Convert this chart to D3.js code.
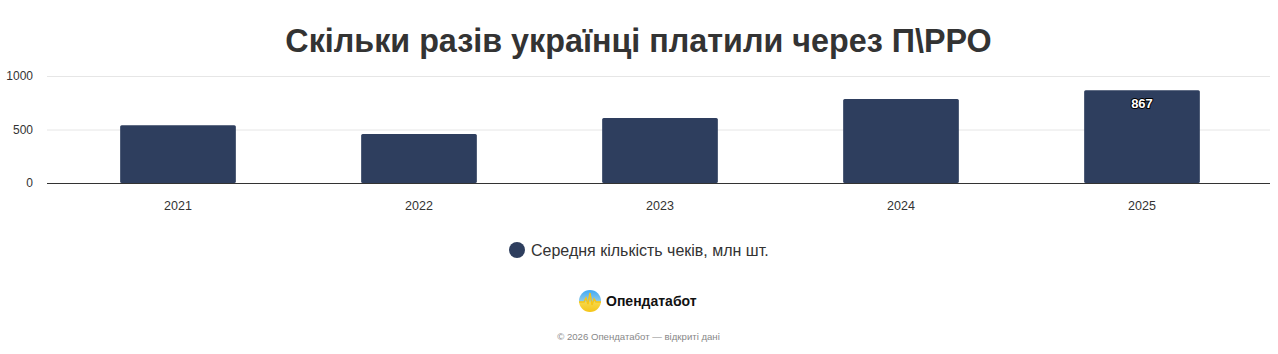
<!DOCTYPE html>
<html>
<head>
<meta charset="utf-8">
<script src="https://cdn.jsdelivr.net/npm/d3@7"></script>
<style>
  body { margin: 0; background: #fff; font-family: "Liberation Sans", Arial, sans-serif; }
</style>
</head>
<body>
<div id="chart"></div>
<script>
const years = ["2021", "2022", "2023", "2024", "2025"];
const values = [540, 458, 607, 785, 867];
const yTicks = [0, 500, 1000];
const seriesName = "Середня кількість чеків, млн шт.";
const titleText = "Скільки разів українці платили через П\\РРО";

const width = 1278;
const height = 354;
const barColor = "#2e3e5e";

const svg = d3.select("#chart")
  .append("svg")
  .attr("width", width)
  .attr("height", height);

const defs = svg.append("defs");
const grad = defs.append("linearGradient")
  .attr("id", "logoGrad")
  .attr("x1", 0).attr("y1", 0).attr("x2", 0).attr("y2", 1);
grad.append("stop").attr("offset", "0%").attr("stop-color", "#3fa9f5");
grad.append("stop").attr("offset", "50%").attr("stop-color", "#8cc9e8");
grad.append("stop").attr("offset", "55%").attr("stop-color", "#f7d84a");
grad.append("stop").attr("offset", "100%").attr("stop-color", "#f5c518");

// title
svg.append("text")
  .attr("x", 638.5)
  .attr("y", 52)
  .attr("text-anchor", "middle")
  .attr("font-size", 32.3)
  .attr("font-weight", "bold")
  .attr("fill", "#333")
  .text(titleText);

const x = d3.scaleBand()
  .domain(years)
  .range([57.5, 1262.5])
  .paddingInner(0.52)
  .paddingOuter(0.26);

const y = d3.scaleLinear()
  .domain([0, 1000])
  .range([183, 76]);

// grid
svg.append("g")
  .selectAll("line")
  .data(yTicks.filter(d => d > 0))
  .join("line")
  .attr("x1", 47)
  .attr("x2", 1270)
  .attr("y1", d => y(d) + 0.5)
  .attr("y2", d => y(d) + 0.5)
  .attr("stroke", "#e6e6e6");

// y labels
svg.append("g")
  .selectAll("text")
  .data(yTicks)
  .join("text")
  .attr("x", 33)
  .attr("y", d => y(d) + 4)
  .attr("text-anchor", "end")
  .attr("font-size", 12)
  .attr("fill", "#333")
  .text(d => d);

// bars
svg.append("g")
  .selectAll("rect")
  .data(values)
  .join("rect")
  .attr("x", (d, i) => x(years[i]))
  .attr("y", d => y(d))
  .attr("width", x.bandwidth())
  .attr("height", d => y(0) - y(d))
  .attr("rx", 1.5)
  .attr("fill", barColor);

// axis line
svg.append("line")
  .attr("x1", 47)
  .attr("x2", 1270)
  .attr("y1", y(0) + 0.5)
  .attr("y2", y(0) + 0.5)
  .attr("stroke", "#333");

// x labels
svg.append("g")
  .selectAll("text")
  .data(years)
  .join("text")
  .attr("x", d => x(d) + x.bandwidth() / 2)
  .attr("y", 210)
  .attr("text-anchor", "middle")
  .attr("font-size", 12.5)
  .attr("fill", "#333")
  .text(d => d);

// data label on last bar
const last = values.length - 1;
svg.append("text")
  .attr("x", x(years[last]) + x.bandwidth() / 2)
  .attr("y", y(values[last]) + 18)
  .attr("text-anchor", "middle")
  .attr("font-size", 13)
  .attr("font-weight", "bold")
  .attr("fill", "#fff")
  .attr("stroke", "#000")
  .attr("stroke-width", 2)
  .attr("paint-order", "stroke")
  .attr("stroke-linejoin", "round")
  .text(values[last]);

// legend
svg.append("circle")
  .attr("cx", 517)
  .attr("cy", 250)
  .attr("r", 8)
  .attr("fill", barColor);
svg.append("text")
  .attr("x", 531)
  .attr("y", 256)
  .attr("font-size", 16)
  .attr("fill", "#333")
  .text(seriesName);

// logo
const logo = svg.append("g").attr("transform", "translate(590,301)");
logo.append("circle").attr("r", 11).attr("fill", "url(#logoGrad)");
logo.append("path")
  .attr("d", "M-11,1 L-6,1 L-4,-3 L-2,3 L0,-8 L2,4 L4,-2 L6,1 L11,1")
  .attr("fill", "none")
  .attr("stroke", "#f5c518")
  .attr("stroke-width", 1.5);
svg.append("text")
  .attr("x", 606)
  .attr("y", 306)
  .attr("font-size", 14)
  .attr("font-weight", "bold")
  .attr("fill", "#111")
  .text("Опендатабот");

svg.append("text")
  .attr("x", 638.5)
  .attr("y", 340)
  .attr("text-anchor", "middle")
  .attr("font-size", 9.6)
  .attr("fill", "#888")
  .text("© 2026 Опендатабот — відкриті дані");
</script>
</body>
</html>
